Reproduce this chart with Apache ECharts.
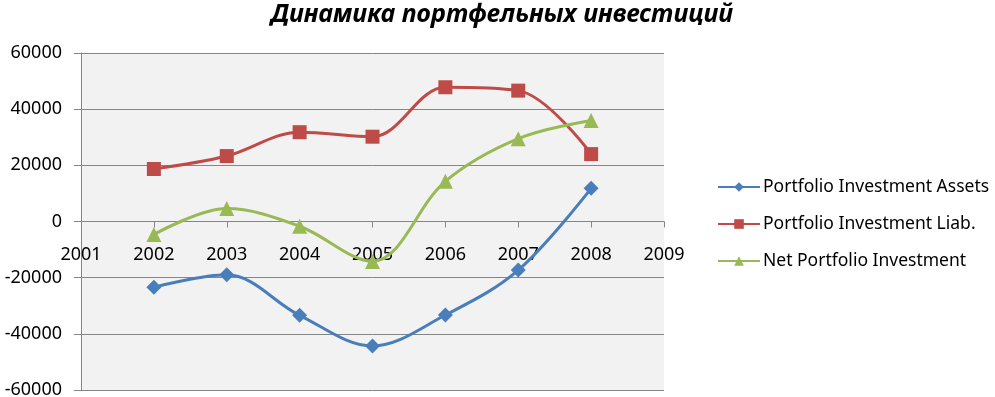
<!DOCTYPE html>
<html>
<head>
    <meta charset="utf-8">
    <title>Динамика портфельных инвестиций</title>
    <script src="https://cdn.jsdelivr.net/npm/echarts@6/dist/echarts.min.js"></script>
</head>
<style>
    *{
        margin: 0;
        padding: 0;
    }
    #chart{
        width: 995px;
        height: 397px;
        background: #fff;
    }
</style>
<body>
<div id="chart"></div>
<script>
    // data
    let years = [2002, 2003, 2004, 2005, 2006, 2007, 2008];
    let assets = [-23400, -19000, -33400, -44300, -33300, -17300, 11800];
    let liab = [18700, 23300, 31800, 30200, 47800, 46600, 24000];
    let net = [-4600, 4600, -1700, -14200, 14300, 29500, 36000];
    let seriesNames = ['Portfolio Investment Assets', 'Portfolio Investment Liab.', 'Net Portfolio Investment'];

    let pairs = arr => years.map((y, i) => [y, arr[i]]);

    let chart = echarts.init(document.getElementById('chart'));
    let font = '"Noto Sans", sans-serif';

    // plot area: 53..390 px, so zero line sits 168.5 px above the bottom
    let option = {
        backgroundColor: '#fff',
        animation: false,
        title: {
            text: 'Динамика портфельных инвестиций',
            left: 497,
            textAlign: 'center',
            top: -3,
            textStyle: {
                fontFamily: font,
                fontSize: 25,
                fontWeight: 'bold',
                fontStyle: 'italic',
                color: '#000'
            }
        },
        grid: {
            left: 81,
            right: 331,
            top: 53,
            bottom: 7,
            containLabel: false,
            outerBoundsMode: 'none',
            show: true,
            backgroundColor: '#f2f2f2',
            borderWidth: 0
        },
        legend: {
            orient: 'vertical',
            left: 717,
            top: 178,
            padding: 0,
            itemWidth: 42,
            itemHeight: 12,
            itemGap: 19,
            textStyle: {
                fontFamily: font,
                fontSize: 17.5,
                color: '#000',
                padding: [0, 0, 0, -2]
            },
            data: seriesNames
        },
        xAxis: {
            type: 'value',
            min: 2001,
            max: 2009,
            interval: 1,
            offset: -168.5,
            axisLine: {onZero: false, lineStyle: {color: '#868686'}},
            axisTick: {show: true, length: 6, lineStyle: {color: '#868686'}},
            axisLabel: {
                margin: 24,
                fontFamily: font,
                fontSize: 18,
                color: '#000',
                formatter: v => String(v)
            },
            splitLine: {show: false}
        },
        yAxis: {
            type: 'value',
            min: -60000,
            max: 60000,
            interval: 20000,
            axisLine: {show: true, onZero: false, lineStyle: {color: '#868686'}},
            axisTick: {show: true, length: 7, lineStyle: {color: '#868686'}},
            axisLabel: {
                margin: 19,
                fontFamily: font,
                fontSize: 18,
                color: '#000',
                formatter: v => String(v)
            },
            splitLine: {show: true, lineStyle: {color: '#868686'}}
        },
        series: [
            {
                name: seriesNames[0],
                type: 'line',
                smooth: 0.35,
                data: pairs(assets),
                symbol: 'diamond',
                symbolSize: 15,
                itemStyle: {color: '#4a7ebb'},
                lineStyle: {width: 3, color: '#4a7ebb'}
            },
            {
                name: seriesNames[1],
                type: 'line',
                smooth: 0.35,
                data: pairs(liab),
                symbol: 'rect',
                symbolSize: 14,
                itemStyle: {color: '#be4b48'},
                lineStyle: {width: 3, color: '#be4b48'}
            },
            {
                name: seriesNames[2],
                type: 'line',
                smooth: 0.35,
                data: pairs(net),
                symbol: 'triangle',
                symbolSize: 15,
                itemStyle: {color: '#98b954'},
                lineStyle: {width: 3, color: '#98b954'}
            }
        ]
    };
    chart.setOption(option);
</script>
</body>
</html>
